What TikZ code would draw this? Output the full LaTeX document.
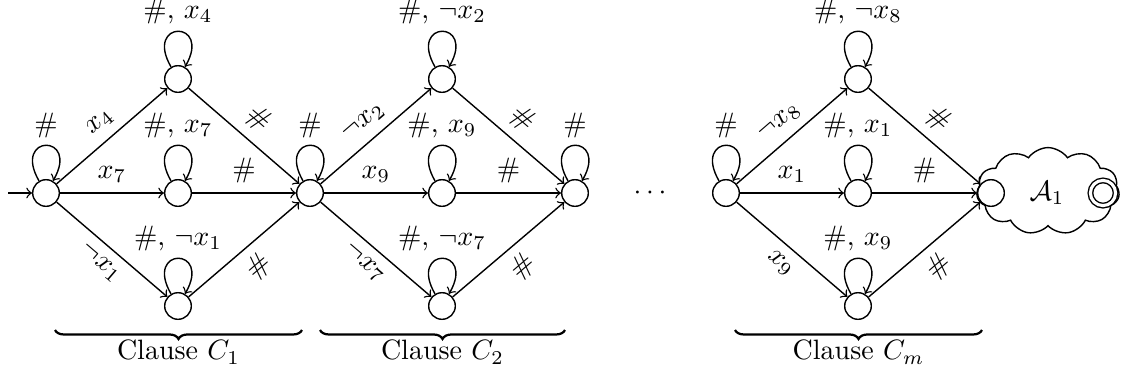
\documentclass[tikz,border=0pt]{standalone}
\usetikzlibrary{shapes.symbols,decorations.pathreplacing}
\begin{document}
\begin{tikzpicture}[x=0.357pt,y=-0.357pt,line width=0.5pt,
  st/.style={circle,draw,minimum size=9.5pt,inner sep=0pt},
  accst/.style={circle,draw,double,double distance=1.1pt,minimum size=9pt,inner sep=0pt},
  tr/.style={->},
  lp/.style={->,loop above,out=120,in=60,min distance=19.5pt},
  lpl/.style={above,inner sep=0pt,yshift=2.4pt},
  brc/.style={decorate,decoration={brace,amplitude=3.2pt,mirror},line width=0.8pt}]
\useasboundingbox (0,0) rectangle (1123,376);

% cloud (automaton A1)
\node[cloud,draw,cloud puffs=11,cloud puff arc=110,aspect=1.7,minimum width=51pt,minimum height=31pt,inner sep=0pt] (cloud) at (1048,191) {};

% states
\node[st] (s1) at (46,193) {};
\node[st] (t1) at (178,79) {};
\node[st] (m1) at (178,193) {};
\node[st] (b1) at (178,306) {};
\node[st] (s2) at (310,193) {};
\node[st] (t2) at (442,79) {};
\node[st] (m2) at (442,193) {};
\node[st] (b2) at (442,306) {};
\node[st] (s3) at (575,193) {};
\node (dots) at (650,193) {$\cdots$};
\node[st] (sm) at (726,193) {};
\node[st] (tm) at (858,79) {};
\node[st] (mm) at (858,193) {};
\node[st] (bm) at (858,306) {};
\node[st] (f) at (991,193) {};
\node (A) at (1047,193) {$\mathcal{A}_1$};
\node[accst] (acc) at (1103,193) {};

\coordinate (i0) at (8,193);
\draw[tr] (i0) -- (s1);

% loops
\path (s1) edge[lp] node[lpl] {\#} (s1);
\path (s2) edge[lp] node[lpl] {\#} (s2);
\path (s3) edge[lp] node[lpl] {\#} (s3);
\path (sm) edge[lp] node[lpl] {\#} (sm);
\path (t1) edge[lp] node[lpl] {\#, $x_4$} (t1);
\path (m1) edge[lp] node[lpl] {\#, $x_7$} (m1);
\path (b1) edge[lp] node[lpl] {\#, $\neg x_1$} (b1);
\path (t2) edge[lp] node[lpl] {\#, $\neg x_2$} (t2);
\path (m2) edge[lp] node[lpl] {\#, $x_9$} (m2);
\path (b2) edge[lp] node[lpl] {\#, $\neg x_7$} (b2);
\path (tm) edge[lp] node[lpl] {\#, $\neg x_8$} (tm);
\path (mm) edge[lp] node[lpl] {\#, $x_1$} (mm);
\path (bm) edge[lp] node[lpl] {\#, $x_9$} (bm);

% clause 1
\draw[tr] (s1) -- node[sloped,above] {$x_4$} (t1);
\draw[tr] (s1) -- node[above] {$x_7$} (m1);
\draw[tr] (s1) -- node[sloped,below] {$\neg x_1$} (b1);
\draw[tr] (t1) -- node[sloped,above] {\#} (s2);
\draw[tr] (m1) -- node[above] {\#} (s2);
\draw[tr] (b1) -- node[sloped,below] {\#} (s2);
% clause 2
\draw[tr] (s2) -- node[sloped,above] {$\neg x_2$} (t2);
\draw[tr] (s2) -- node[above] {$x_9$} (m2);
\draw[tr] (s2) -- node[sloped,below] {$\neg x_7$} (b2);
\draw[tr] (t2) -- node[sloped,above] {\#} (s3);
\draw[tr] (m2) -- node[above] {\#} (s3);
\draw[tr] (b2) -- node[sloped,below] {\#} (s3);
% clause m
\draw[tr] (sm) -- node[sloped,above] {$\neg x_8$} (tm);
\draw[tr] (sm) -- node[above] {$x_1$} (mm);
\draw[tr] (sm) -- node[sloped,below] {$x_9$} (bm);
\draw[tr] (tm) -- node[sloped,above] {\#} (f);
\draw[tr] (mm) -- node[above] {\#} (f);
\draw[tr] (bm) -- node[sloped,below] {\#} (f);

% braces
\coordinate (c1a) at (55,330); \coordinate (c1b) at (302,330);
\coordinate (c2a) at (320,330); \coordinate (c2b) at (565,330);
\coordinate (cma) at (735,330); \coordinate (cmb) at (982,330);
\draw[brc] (c1a) -- node[midway,yshift=-7.9pt] (L1) {Clause $C_1$} (c1b);
\draw[brc] (c2a) -- node[midway,yshift=-7.9pt] (L2) {Clause $C_2$} (c2b);
\draw[brc] (cma) -- node[midway,yshift=-7.9pt] (Lm) {Clause $C_m$} (cmb);
\end{tikzpicture}
\end{document}
